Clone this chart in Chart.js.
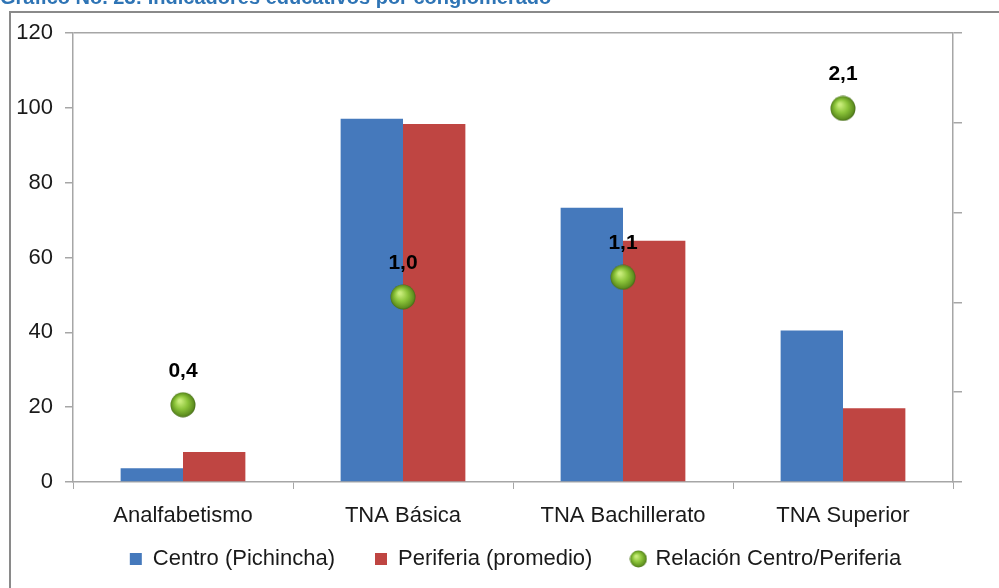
<!DOCTYPE html>
<html>
<head>
<meta charset="utf-8">
<script src="https://cdn.jsdelivr.net/npm/chart.js@4"></script>
<style>
  body { margin: 0; background: #fff; overflow: hidden; }
  #wrap { position: absolute; left: 0; top: 0; width: 999px; height: 588px; }
  #frame { position: absolute; left: 9px; top: 11px; width: 1000px; height: 600px;
           border: 2px solid #8a8a8a; pointer-events: none; }
  #titulo { position: absolute; left: 0; top: -14px; font-family: "Liberation Sans", Arial, sans-serif;
            font-weight: bold; font-size: 20px; color: #2e74b5; white-space: nowrap; }
</style>
</head>
<body>
<div id="wrap">
  <canvas id="myChart" width="999" height="588"></canvas>
  <div id="frame"></div>
  <div id="titulo">Gráfico No. 23: Indicadores educativos por conglomerado</div>
</div>
<script>
// categorias y valores
const categorias = ['Analfabetismo', 'TNA Básica', 'TNA Bachillerato', 'TNA Superior'];
const centro = [3.7, 97.1, 73.3, 40.5];
const periferia = [8.0, 95.7, 64.5, 19.7];
const relacion = [0.43, 1.03, 1.14, 2.08];
const ticksY = [0, 20, 40, 60, 80, 100, 120];

// esfera verde para los puntos
function esfera(r){
    const c = document.createElement('canvas');
    c.width = r*2; c.height = r*2;
    const g = c.getContext('2d');
    const grad = g.createRadialGradient(r*0.75, r*0.7, r*0.1, r, r, r);
    grad.addColorStop(0, '#c8ec7a');
    grad.addColorStop(0.45, '#8cc43a');
    grad.addColorStop(0.85, '#5f9020');
    grad.addColorStop(1, '#3d5e14');
    g.fillStyle = grad;
    g.beginPath();
    g.arc(r, r, r-0.5, 0, Math.PI*2);
    g.fill();
    return c;
}
const bola = esfera(13);
const bolaChica = esfera(9);

const FONT = '"Liberation Sans", Arial, sans-serif';
const gris = '#a6a6a6';

// etiquetas sobre los puntos
const etiquetas = {
    id: 'etiquetas',
    afterDatasetsDraw(chart){
        const meta = chart.getDatasetMeta(2);
        const c = chart.ctx;
        c.save();
        c.font = 'bold 21px ' + FONT;
        c.fillStyle = '#000';
        c.textAlign = 'center';
        c.textBaseline = 'middle';
        meta.data.forEach((p, i) => {
            c.fillText(relacion[i].toFixed(1).replace('.', ','), p.x, p.y - 34);
        });
        c.restore();
    }
};

// la leyenda usa padding grande para separar items; se sube (y se corre un poco a la derecha)
const moverLeyenda = {
    id: 'moverLeyenda',
    afterLayout(chart){
        const l = chart.legend;
        if (l) {
            l.top -= 24; l.bottom -= 24;
            l.left += 16; l.right += 16;
        }
    }
};

const ctx = document.getElementById('myChart').getContext('2d');
const myChart = new Chart(ctx, {
    type: 'bar',
    data: {
        labels: categorias,
        datasets: [{
            label: 'Centro (Pichincha)',
            data: centro,
            backgroundColor: '#4579bc',
            pointStyle: 'rect',
            yAxisID: 'y',
            order: 2
        },
        {
            label: 'Periferia (promedio)',
            data: periferia,
            backgroundColor: '#bf4542',
            pointStyle: 'rect',
            yAxisID: 'y',
            order: 2
        },
        {
            type: 'line',
            label: 'Relación Centro/Periferia',
            data: relacion,
            showLine: false,
            pointStyle: bola,
            pointRadius: 13,
            yAxisID: 'y1',
            order: 1
        }]
    },
    plugins: [etiquetas, moverLeyenda],
    options: {
        responsive: false,
        animation: false,
        events: [],
        layout: { padding: { top: 33, bottom: -16, left: 0, right: 0 } },
        datasets: {
            bar: { categoryPercentage: 0.567, barPercentage: 1.0 }
        },
        scales: {
            x: {
                grid: { display: true, drawOnChartArea: false, offset: true, color: gris, tickLength: 7 },
                border: { color: gris, width: 1.5 },
                ticks: { font: { family: FONT, size: 22 }, color: '#1a1a1a', padding: 14 },
                afterFit(s){ s.height = 50; }
            },
            y: {
                position: 'left',
                min: 0, max: 120,
                afterBuildTicks(s){ s.ticks = ticksY.map(v => ({ value: v })); },
                grid: {
                    color: c => (c.tick && c.tick.value === 120) ? gris : 'rgba(0,0,0,0)',
                    tickColor: gris, tickLength: 8, lineWidth: 1.5
                },
                border: { color: gris, width: 1.5 },
                ticks: { font: { family: FONT, size: 22 }, color: '#1a1a1a', padding: 12 },
                afterFit(s){ s.width = 73; }
            },
            y1: {
                position: 'right',
                min: 0, max: 2.5,
                ticks: { stepSize: 0.5, callback: () => '' },
                grid: { drawOnChartArea: false, color: gris, tickLength: 9, lineWidth: 1.5 },
                border: { color: gris, width: 1.5 },
                afterFit(s){ s.width = 46; }
            }
        },
        plugins: {
            tooltip: { enabled: false },
            legend: {
                position: 'bottom',
                labels: {
                    usePointStyle: true,
                    font: { family: FONT, size: 22 },
                    color: '#1a1a1a',
                    padding: 40,
                    boxWidth: 12,
                    boxHeight: 12,
                    sort: (a, b) => a.datasetIndex - b.datasetIndex,
                    generateLabels(chart){
                        const items = Chart.defaults.plugins.legend.labels.generateLabels(chart);
                        items.forEach(it => { if (it.datasetIndex === 2) it.pointStyle = bolaChica; });
                        return items;
                    }
                }
            }
        }
    }
});
</script>
</body>
</html>
